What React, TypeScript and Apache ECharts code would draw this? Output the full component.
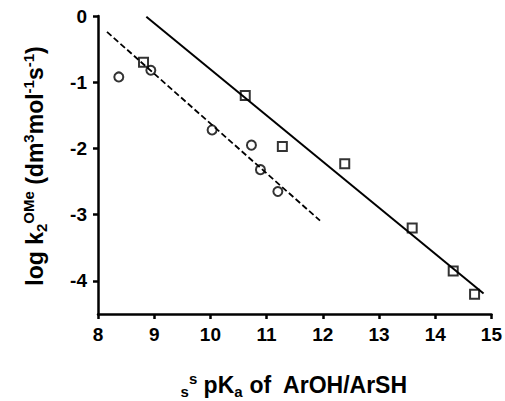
import React, { useEffect, useRef } from "react";
import * as echarts from "echarts";

// ArOH points (open circles): s^s pKa vs log k2(OMe)
const phenolPKa = [8.37, 8.94, 10.03, 10.73, 10.89, 11.2];
const phenolLogK = [-0.92, -0.82, -1.72, -1.95, -2.32, -2.65];

// ArSH points (open squares)
const thiolPKa = [8.81, 10.62, 11.28, 12.39, 13.59, 14.32, 14.7];
const thiolLogK = [-0.7, -1.2, -1.97, -2.23, -3.2, -3.85, -4.2];

// Fitted regression lines, given by their end points
const thiolFitX = [8.86, 14.86];
const thiolFitY = [-0.01, -4.19];
const phenolFitX = [8.16, 11.95];
const phenolFitY = [-0.24, -3.09];

// Axis ticks
const xTicks = [8, 9, 10, 11, 12, 13, 14, 15];
const yTicks = [0, -1, -2, -3, -4];

const FONT = "Arial";

const pairs = (xs: number[], ys: number[]) => xs.map((x, i) => [x, ys[i]]);

export default function App() {
  const ref = useRef<HTMLDivElement>(null);

  useEffect(() => {
    if (!ref.current) return;
    const chart = echarts.init(ref.current, undefined, { renderer: "svg" });

    const base = { fontFamily: FONT, fontWeight: "bold", fontSize: 23, color: "#000", lineHeight: 28, verticalAlign: "middle" };
    const sup = { fontFamily: FONT, fontWeight: "bold", fontSize: 15, color: "#000", lineHeight: 15, verticalAlign: "top" };
    const sub = { fontFamily: FONT, fontWeight: "bold", fontSize: 15, color: "#000", lineHeight: 15, verticalAlign: "bottom" };
    const rich = { b: base, p: sup, d: sub };

    const tickLabel = {
      margin: 11,
      fontFamily: FONT,
      fontWeight: "bold",
      fontSize: 19,
      color: "#000",
    };

    const axisCommon = {
      axisLine: { show: true, onZero: false, lineStyle: { color: "#000", width: 2.5 } },
      axisTick: { show: true, inside: false, length: 5, lineStyle: { color: "#000", width: 2.5 } },
      splitLine: { show: false },
    };

    chart.setOption({
      animation: false,
      backgroundColor: "#fff",
      grid: { left: 98, right: 11, top: 16, bottom: 87, containLabel: false },
      xAxis: {
        type: "value",
        min: 8,
        max: 15,
        interval: 1,
        ...axisCommon,
        axisTick: { ...axisCommon.axisTick, customValues: xTicks },
        axisLabel: { ...tickLabel, customValues: xTicks },
      },
      yAxis: {
        type: "value",
        min: -4.5,
        max: 0,
        ...axisCommon,
        axisTick: { ...axisCommon.axisTick, customValues: yTicks },
        axisLabel: { ...tickLabel, customValues: yTicks },
      },
      graphic: [
        {
          type: "text",
          x: 294,
          y: 385,
          style: {
            text: "{d|s}{p|s}{b| pK}{d|a}{b| of  ArOH/ArSH}",
            rich,
            align: "center",
            verticalAlign: "middle",
          },
        },
        {
          type: "text",
          x: 35,
          y: 166,
          rotation: Math.PI / 2,
          style: {
            text: "{b|log k}{d|2}{p|OMe}{b| (dm}{p|3}{b|mol}{p|-1}{b|s}{p|-1}{b|)}",
            rich,
            align: "center",
            verticalAlign: "middle",
          },
        },
      ],
      series: [
        {
          type: "line",
          data: pairs(thiolFitX, thiolFitY),
          showSymbol: false,
          lineStyle: { color: "#000", width: 2, type: "solid" },
          z: 1,
        },
        {
          type: "line",
          data: pairs(phenolFitX, phenolFitY),
          showSymbol: false,
          lineStyle: { color: "#000", width: 1.8, type: [6, 3] },
          z: 1,
        },
        {
          type: "scatter",
          data: pairs(phenolPKa, phenolLogK),
          symbol: "circle",
          symbolSize: 9,
          itemStyle: { color: "rgba(0,0,0,0)", borderColor: "#000", borderWidth: 2 },
          z: 3,
        },
        {
          type: "scatter",
          data: pairs(thiolPKa, thiolLogK),
          symbol: "rect",
          symbolSize: 9,
          itemStyle: { color: "rgba(0,0,0,0)", borderColor: "#000", borderWidth: 2 },
          z: 3,
        },
      ],
    });

    return () => chart.dispose();
  }, []);

  return (
    <div
      ref={ref}
      style={{ position: "fixed", left: 0, top: 0, width: 505, height: 401, background: "#fff" }}
    />
  );
}
